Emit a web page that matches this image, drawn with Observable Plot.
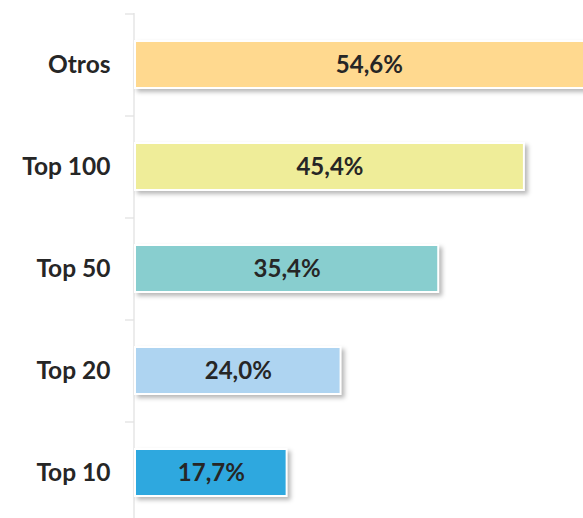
<!DOCTYPE html>
<html>
<head>
<meta charset="utf-8">
<script src="https://cdn.jsdelivr.net/npm/d3@7"></script>
<script src="https://cdn.jsdelivr.net/npm/@observablehq/plot@0.6"></script>
<style>
  html, body { margin: 0; padding: 0; background: #fff; overflow: hidden; }
  #chart svg { overflow: visible; }
  g[aria-label="bar"] rect { filter: drop-shadow(3px 3px 2px rgba(0,0,0,0.28)); }
</style>
</head>
<body>
<div id="chart"></div>
<script>
const categories = ["Otros", "Top 100", "Top 50", "Top 20", "Top 10"];
const values = [54.6, 45.4, 35.4, 24.0, 17.7];
const labels = ["54,6%", "45,4%", "35,4%", "24,0%", "17,7%"];
const colors = ["#FFD98F", "#EFED99", "#88CECF", "#AED4F1", "#2EA8DF"];

const data = categories.map((c, i) => ({cat: c, value: values[i], label: labels[i], color: colors[i]}));

const font = "Lato, 'Open Sans', sans-serif";

const chart = Plot.plot({
  width: 583,
  height: 518,
  marginLeft: 135,
  marginRight: 0,
  marginTop: 13,
  marginBottom: 0,
  style: {fontFamily: font, background: "#fff"},
  x: {domain: [0, 52.3], axis: null},
  y: {domain: categories, range: [13.5, 523.5], paddingInner: 0.54, paddingOuter: 0.27, axis: null},
  marks: [
    Plot.ruleX([0], {dx: -1.5, stroke: "#d9d9d9", strokeWidth: 1}),
    Plot.ruleY(categories, {y: d => d, dy: -51, x1: -1.17, x2: -0.15, stroke: "#d9d9d9", strokeWidth: 1}),
    Plot.barX(data, {y: "cat", x1: 0, x2: "value", fill: "color", stroke: "#fff", strokeWidth: 2}),
    Plot.text(data, {y: "cat", x: d => d.value / 2, text: "label", fontSize: 24, fontWeight: "bold", fill: "#262626", textAnchor: "middle"}),
    Plot.text(data, {y: "cat", x: 0, dx: -25, text: "cat", fontSize: 24.5, fontWeight: "bold", fill: "#262626", textAnchor: "end"})
  ]
});
document.getElementById("chart").appendChild(chart);
</script>
</body>
</html>
